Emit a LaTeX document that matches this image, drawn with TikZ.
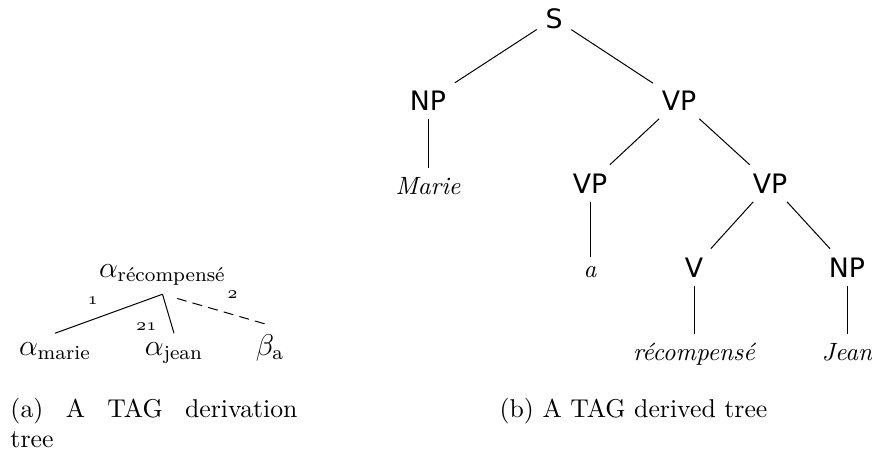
\documentclass[tikz,border=0pt]{standalone}
\usepackage{fontspec}
\usepackage{amsmath}
\newfontfamily\catfont{DejaVu Sans}

\begin{document}
\begin{tikzpicture}[x=0.4pt, y=-0.4pt,
	cat/.style={anchor=base, font=\fontsize{10.7}{13}\catfont},
	word/.style={anchor=base, font=\fontsize{10}{12}\selectfont\itshape},
	deriv/.style={anchor=base, font=\fontsize{12}{14}\selectfont},
	addr/.style={font=\fontsize{7}{8}\selectfont, inner sep=0.5pt},
	caption/.style={anchor=base west, inner sep=0pt, font=\fontsize{10.3}{12}\selectfont}]
	\useasboundingbox (0,0) rectangle (872,455);

	\node[deriv] (arec) at (162.5,277) {$\alpha_{\text{récompensé}}$};
	\node[deriv] (amarie) at (55,355) {$\alpha_{\text{marie}}$};
	\node[deriv] (ajean) at (174,355) {$\alpha_{\text{jean}}$};
	\node[deriv] (ba) at (270,355) {$\beta_{\text{a}}$};
	\draw (arec.south) -- node[addr, pos=0.65, above=5.5pt] {$\mathnormal{1}$} (amarie.north);
	\draw (arec.south) -- node[addr, pos=0.84, left=5.5pt] {$\mathnormal{21}$} (ajean.north);
	\draw[dash pattern=on 4pt off 2.5pt, shorten <=6pt] (arec.south) -- node[addr, pos=0.65, above=5.5pt] {$\mathnormal{2}$} (ba.north);

	\node[cat] (s) at (554,28) {S};
	\node[cat] (np) at (428,110) {NP};
	\node[cat] (vp) at (679,110) {VP};
	\node[word] (marie) at (428,194) {Marie};
	\node[cat] (vpa) at (590,193) {VP};
	\node[cat] (vpb) at (770,193) {VP};
	\node[word] (a) at (590,277) {a};
	\node[cat] (v) at (694,277) {V};
	\node[cat] (npb) at (847,277) {NP};
	\node[word] (rec) at (694,360) {récompensé};
	\node[word] (jean) at (847,360) {Jean};
	\foreach \p/\c in {s/np, s/vp, np/marie, vp/vpa, vp/vpb, vpa/a, vpb/v, vpb/npb, v/rec, npb/jean}
	{
		\draw (\p) -- (\c);
	}

	\node[caption] (capa) at (10,417) {\makebox[114.8pt][s]{(a) A TAG derivation}};
	\node[caption] (capa2) at (10,447) {tree};
	\node[caption, anchor=base] (capb) at (633.5,417) {(b) A TAG derived tree};
\end{tikzpicture}
\end{document}
